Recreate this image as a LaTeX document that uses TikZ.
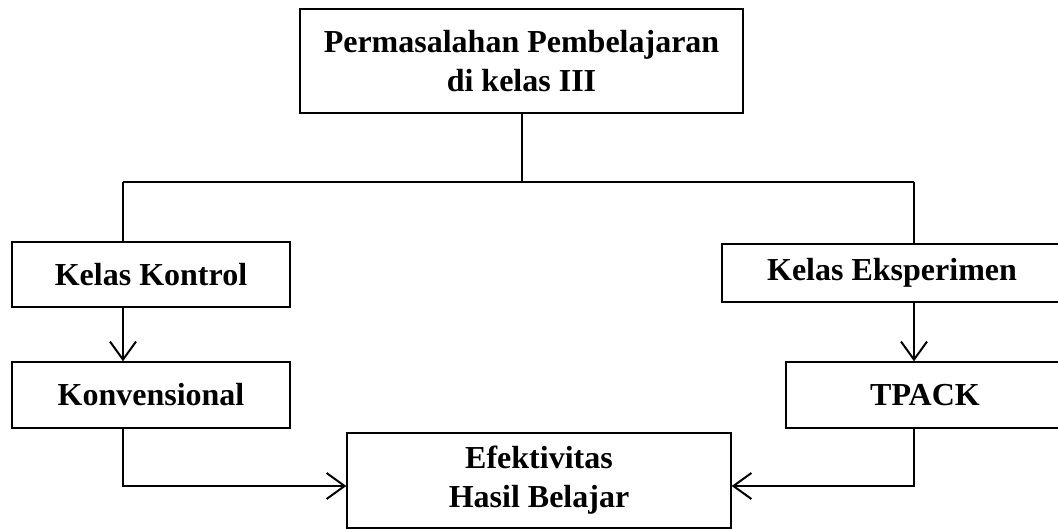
\documentclass[tikz,border=0pt]{standalone}
\usepackage{fontspec}
\setmainfont{Liberation Serif}
\usepackage{tikz}
\usetikzlibrary{arrows.meta}

\tikzset{
	kotak/.style={draw, line width=1.4pt, align=center, inner sep=0pt,
		font=\fontsize{32}{39}\selectfont\bfseries},
	garis/.style={line width=2pt},
	panah/.style={line width=2pt, -{Straight Barb[length=18pt, width=26pt, line width=2pt]}}
}

\begin{document}
\begin{tikzpicture}[x=1pt,y=-1pt]
	\useasboundingbox (0,0) rectangle (1058,529);
	
	\node[kotak, minimum width=443pt, minimum height=104pt] (masalah) at (521.5,61) {Permasalahan Pembelajaran\\di kelas III};
	\node[kotak, minimum width=278pt, minimum height=65pt] (kontrol) at (151,274.5) {Kelas Kontrol};
	\node[kotak, minimum width=340pt, minimum height=58pt] (eksperimen) at (892,273) {Kelas Eksperimen};
	\node[kotak, minimum width=278pt, minimum height=66pt] (konvensional) at (151,395) {Konvensional};
	\node[kotak, minimum width=278pt, minimum height=66pt] (tpack) at (925,395) {TPACK};
	\node[kotak, minimum width=384pt, minimum height=95pt] (efektivitas) at (539,480.5) {Efektivitas\\Hasil Belajar};
	
	\coordinate (kiri) at (123,182);
	\coordinate (kanan) at (914,182);
	\coordinate (bawahkiri) at (123,486);
	\coordinate (bawahkanan) at (914,486);
	
	\draw[garis] (masalah.south) -- (masalah.south |- kiri);
	\draw[garis] (kiri) -- (kanan);
	\draw[garis] (kiri) -- (kiri |- kontrol.north);
	\draw[garis] (kanan) -- (kanan |- eksperimen.north);
	
	\draw[panah] (kiri |- kontrol.south) -- (kiri |- konvensional.north);
	\draw[panah] (kanan |- eksperimen.south) -- (kanan |- tpack.north);
	
	\draw[panah] (kiri |- konvensional.south) -- (bawahkiri) -- (efektivitas.west |- bawahkiri);
	\draw[panah] (kanan |- tpack.south) -- (bawahkanan) -- (efektivitas.east |- bawahkanan);
\end{tikzpicture}
\end{document}
